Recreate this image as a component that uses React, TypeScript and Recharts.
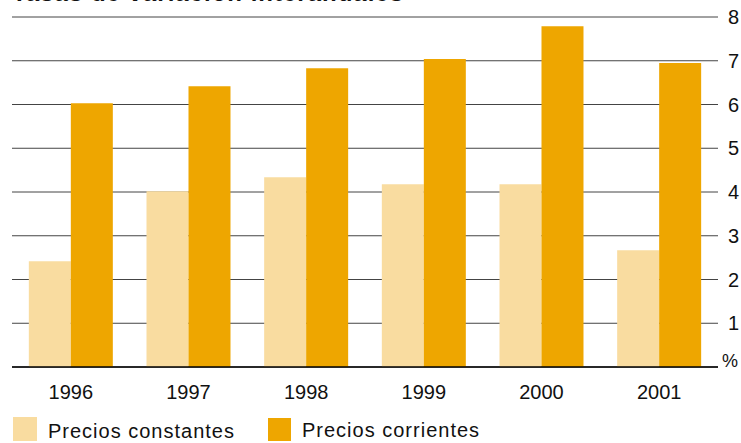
import { BarChart, Bar, XAxis, YAxis, CartesianGrid } from 'recharts';

const years = ['1996', '1997', '1998', '1999', '2000', '2001'];
const constantes = [2.42, 4.02, 4.34, 4.18, 4.18, 2.67];
const corrientes = [6.03, 6.42, 6.83, 7.04, 7.79, 6.95];
const yTicks = [0, 1, 2, 3, 4, 5, 6, 7, 8];

const LIGHT = '#F9DCA0';
const DARK = '#EEA600';
const FONT = '"Liberation Sans", Arial, Helvetica, sans-serif';

const data = years.map((year, i) => ({
  year,
  constantes: constantes[i],
  corrientes: corrientes[i],
}));

function RightTick(props: any) {
  const { x, y, payload } = props;
  const isZero = payload.value === 0;
  return (
    <text
      x={isZero ? x - 6 : x}
      y={isZero ? y - 6 : y}
      dy="0.355em"
      textAnchor="start"
      fill="#111"
      fontSize={isZero ? 18 : 20}
      fontFamily={FONT}
    >
      {isZero ? '%' : payload.value}
    </text>
  );
}

export default function App() {
  return (
    <div
      style={{
        position: 'absolute',
        left: 0,
        top: 0,
        width: 741,
        height: 443,
        overflow: 'hidden',
        background: '#fff',
        fontFamily: FONT,
      }}
    >
      <div
        style={{
          position: 'absolute',
          left: 12,
          top: -19,
          fontSize: 24,
          lineHeight: '24px',
          fontWeight: 'bold',
          letterSpacing: 1,
          color: '#111',
          whiteSpace: 'nowrap',
        }}
      >
        Tasas de variación interanuales
      </div>
      <BarChart
        width={741}
        height={443}
        data={data}
        margin={{ top: 17, right: 0, left: 12, bottom: 36 }}
        barCategoryGap="14.3%"
        barGap={0}
      >
        <CartesianGrid vertical={false} stroke="#444" strokeWidth={1} />
        <XAxis
          dataKey="year"
          height={40}
          axisLine={{ stroke: '#000', strokeWidth: 1.5 }}
          tickLine={false}
          tickMargin={12}
          tick={{ fill: '#111', fontSize: 20, fontFamily: FONT }}
        />
        <YAxis
          orientation="right"
          width={23}
          domain={[0, 8]}
          ticks={yTicks}
          axisLine={false}
          tickLine={false}
          tickSize={0}
          tickMargin={10}
          tick={<RightTick />}
          interval={0}
        />
        <Bar dataKey="constantes" fill={LIGHT} isAnimationActive={false} />
        <Bar dataKey="corrientes" fill={DARK} isAnimationActive={false} />
      </BarChart>
      <div style={{ position: 'absolute', left: 13, top: 417, display: 'flex', alignItems: 'center' }}>
        <div style={{ width: 24, height: 24, background: LIGHT }} />
        <span style={{ marginLeft: 11, fontSize: 20, letterSpacing: 1, color: '#111', position: 'relative', top: 2 }}>
          Precios constantes
        </span>
      </div>
      <div style={{ position: 'absolute', left: 268, top: 418, display: 'flex', alignItems: 'center' }}>
        <div style={{ width: 23, height: 23, background: DARK }} />
        <span style={{ marginLeft: 11, fontSize: 20, letterSpacing: 1, color: '#111', position: 'relative', top: 1 }}>
          Precios corrientes
        </span>
      </div>
    </div>
  );
}
